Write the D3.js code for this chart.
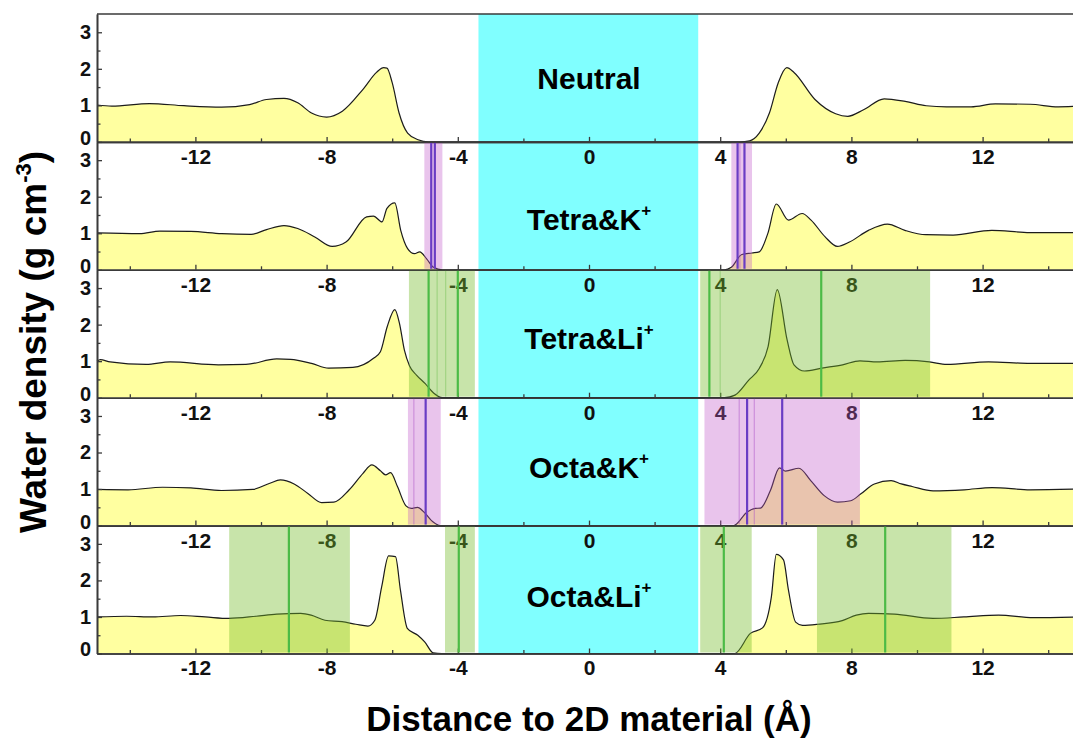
<!DOCTYPE html>
<html>
<head>
<meta charset="utf-8">
<script src="https://cdn.jsdelivr.net/npm/d3@7"></script>
<style>
  body { margin: 0; background: #fff; }
  text { font-family: "Liberation Sans", Arial, sans-serif; font-weight: bold; }
</style>
</head>
<body>
<svg width="1073" height="738"></svg>
<script>
// water density profiles, [distance (Å), density (g cm-3)]
var neutral = [[-15,1.01],[-14.55,0.98],[-13.4,1.05],[-12.35,0.99],[-11.2,0.95],[-10.35,1.02],[-9.83,1.16],[-9.3,1.19],
  [-8.88,1.07],[-8.46,0.79],[-8.0,0.68],[-7.52,0.84],[-6.89,1.44],[-6.47,1.91],[-6.26,2.03],[-6.16,2.02],[-6.0,1.62],
  [-5.79,0.79],[-5.53,0.24],[-5.21,0.06],[-4.9,0],[4.6,0],[4.9,0.03],[5.19,0.24],[5.5,0.79],[5.77,1.62],[6.03,2.03],
  [6.25,1.9],[6.89,1.16],[7.52,0.77],[7.89,0.70],[8.37,0.88],[9.0,1.18],[9.64,1.11],[10.28,0.99],[10.9,0.96],
  [11.65,0.96],[12.39,1.04],[13.45,1.03],[14.3,0.96],[15,0.98]];

var tetraK = [[-15,1.01],[-13.7,0.99],[-13.08,1.06],[-12.14,1.05],[-11.2,0.99],[-10.3,0.97],[-9.83,1.10],[-9.3,1.21],
  [-8.88,1.13],[-8.36,0.9],[-7.83,0.64],[-7.41,0.76],[-6.78,1.45],[-6.57,1.47],[-6.31,1.31],[-6.16,1.68],[-5.92,1.83],
  [-5.74,1.08],[-5.53,0.58],[-5.32,0.44],[-5.16,0.49],[-4.95,0.30],[-4.74,0.07],[-4.47,0],[4.13,0],[4.34,0.07],
  [4.66,0.42],[4.97,0.46],[5.19,0.49],[5.45,0.99],[5.71,1.80],[6.08,1.36],[6.5,1.54],[6.77,1.36],[7.2,0.9],
  [7.57,0.64],[7.94,0.76],[8.52,1.08],[9.1,1.25],[9.63,1.08],[10.27,0.96],[11.1,0.95],[12.28,1.08],[13.44,1.02],[15,1.02]];

var tetraLi = [[-15,1.0],[-14.9,1.04],[-14.6,0.98],[-13.5,0.91],[-12.77,0.98],[-11.3,0.9],[-10.46,0.91],[-9.52,1.06],
  [-9.1,1.05],[-8.46,0.94],[-7.94,0.81],[-7.2,0.83],[-6.57,1.08],[-6.36,1.26],[-6.15,1.95],[-5.92,2.41],[-5.78,2.04],
  [-5.63,1.31],[-5.47,0.87],[-5.26,0.62],[-5.0,0.39],[-4.73,0.12],[-4.47,0],[4.13,0],[4.45,0.07],[4.87,0.48],
  [5.19,0.8],[5.46,1.4],[5.74,2.96],[6.04,1.58],[6.25,0.9],[6.57,0.73],[7.1,0.81],[7.73,0.9],[8.26,1.01],[8.79,0.98],
  [9.64,1.02],[10.38,0.98],[10.91,0.91],[12.18,0.98],[13.45,0.94],[15,0.94]];

var octaK = [[-15,0.99],[-14.05,0.98],[-13.0,1.05],[-12.14,1.03],[-11.2,0.96],[-10.25,0.99],[-9.73,1.16],[-9.41,1.25],
  [-8.99,1.14],[-8.57,0.88],[-8.15,0.63],[-7.78,0.64],[-7.31,0.98],[-6.89,1.43],[-6.62,1.66],[-6.36,1.5],[-6.2,1.39],
  [-6.05,1.45],[-5.84,1.07],[-5.58,0.54],[-5.42,0.47],[-5.23,0.5],[-5.0,0.34],[-4.77,0.11],[-4.53,0],[4.41,0],
  [4.82,0.37],[5.07,0.47],[5.23,0.48],[5.53,0.96],[5.81,1.58],[5.99,1.49],[6.4,1.57],[6.76,1.23],[7.17,0.82],
  [7.58,0.64],[7.98,0.68],[8.29,0.87],[8.7,1.14],[9.21,1.23],[9.52,1.14],[9.85,1.07],[10.49,0.95],[11.44,0.98],
  [12.29,1.04],[13.45,0.98],[15,1.0]];

var octaLi = [[-15,1.0],[-14.1,1.02],[-13.3,1.0],[-12.45,1.04],[-11.7,1.0],[-10.98,0.96],[-10.15,1.02],[-9.52,1.08],
  [-8.79,1.1],[-8.47,1.05],[-8.05,0.91],[-7.53,0.87],[-7.11,0.8],[-6.74,0.75],[-6.53,0.91],[-6.32,1.83],[-6.11,2.67],
  [-5.9,2.65],[-5.75,1.74],[-5.54,0.69],[-5.22,0.5],[-5.01,0.32],[-4.75,0.02],[-4.49,0],[4.44,0],[4.92,0.55],
  [5.29,0.7],[5.56,1.55],[5.71,2.71],[5.93,2.56],[6.08,1.74],[6.3,0.86],[6.51,0.77],[6.98,0.8],[7.72,0.9],[8.15,1.05],
  [8.52,1.1],[9.31,1.08],[10.48,0.96],[11.43,1.0],[12.49,1.05],[13.55,0.98],[15,1.0]];

var panelNames = ['Neutral', 'Tetra&K', 'Tetra&Li', 'Octa&K', 'Octa&Li'];
var panelSup = ['', '+', '+', '+', '+'];

// ion regions: shaded ranges, ion positions, and weaker positions
var neutralBands = [], neutralIons = [], neutralWeak = [];
var tetraKBands = [[-5.02, -4.47], [4.34, 4.97]];
var tetraKIons = [-4.81, -4.70, 4.53, 4.74];
var tetraKWeak = [4.6];
var tetraLiBands = [[-5.49, -3.48], [3.39, 10.4]];
var tetraLiIons = [-4.89, -4.0, 3.67, 7.08];
var tetraLiWeak = [-4.63, -4.37, 4.0];
var octaKBands = [[-5.52, -4.52], [3.52, 8.26]];
var octaKIons = [-4.98, 4.82, 5.89];
var octaKWeak = [-5.34, 4.58, 5.04];
var octaLiBands = [[-10.97, -7.29], [-4.39, -3.48], [3.39, 4.96], [6.95, 11.05]];
var octaLiIons = [-9.15, -3.97, 4.11, 9.03];
var octaLiWeak = [];

var slab = [-3.37, 3.33];   // 2D material
var xMajor = [-12, -8, -4, 0, 4, 8, 12];
var xMinor = [-14, -10, -6, -2, 2, 6, 10, 14];
var yMajor = [0, 1, 2, 3];
var yMinor = [0.5, 1.5, 2.5];

var panels = [
  { pts: neutral, bands: neutralBands, ions: neutralIons, weak: neutralWeak, kind: 'K' },
  { pts: tetraK, bands: tetraKBands, ions: tetraKIons, weak: tetraKWeak, kind: 'K' },
  { pts: tetraLi, bands: tetraLiBands, ions: tetraLiIons, weak: tetraLiWeak, kind: 'Li' },
  { pts: octaK, bands: octaKBands, ions: octaKIons, weak: octaKWeak, kind: 'K' },
  { pts: octaLi, bands: octaLiBands, ions: octaLiIons, weak: octaLiWeak, kind: 'Li' }
];
panels.forEach(function(p, i) { p.name = panelNames[i]; p.sup = panelSup[i]; });

// layout
var left = 97, right = 1081, plotTop = 14, ph = 127.9;
var labelDy = [64, 77, 69, 70, 71];
var bandFill = { K: 'rgba(192,86,200,0.35)', Li: 'rgba(118,187,42,0.4)' };
var ionStroke = { K: '#6a3cc4', Li: '#4cbb46' };
var weakStroke = { K: 'rgba(170,80,200,0.45)', Li: 'rgba(90,180,60,0.35)' };
var axisColor = '#3a3a3a';
var plain = function(d) { return String(d); };   // keep ASCII hyphen minus

var svg = d3.select('svg');

var x = d3.scaleLinear().domain([-15, 15]).range([left, right]);
var y = d3.scaleLinear().domain([0, 3.5]).range([ph, 0]);

svg.append('rect')
  .attr('x', x(slab[0]))
  .attr('width', x(slab[1]) - x(slab[0]))
  .attr('y', plotTop)
  .attr('height', ph * 5)
  .attr('fill', '#80ffff');

var area = d3.area()
  .x(function(d) { return x(d[0]); })
  .y0(y(0))
  .y1(function(d) { return y(d[1]); })
  .curve(d3.curveMonotoneX);
var line = area.lineY1();

function shift(i) { return 'translate(0,' + (plotTop + i * ph) + ')'; }

// profiles
var prof = svg.selectAll('g.profile')
  .data(panels)
  .enter()
    .append('g')
      .attr('class', 'profile')
      .attr('transform', function(d, i) { return shift(i); });

prof.append('path')
  .attr('d', function(d) { return area(d.pts); })
  .attr('fill', '#ffffa0');
prof.append('path')
  .attr('d', function(d) { return line(d.pts); })
  .attr('fill', 'none')
  .attr('stroke', '#1c1c1c')
  .attr('stroke-width', 1.2);

prof.each(function(d, i) {
  var t = d3.select(this).append('text')
    .attr('x', x(0))
    .attr('y', labelDy[i] + 10.7)
    .attr('text-anchor', 'middle')
    .attr('font-size', 30)
    .text(d.name);
  if (d.sup) {
    t.append('tspan').attr('dy', -14).attr('font-size', 17).text(d.sup);
  }
});

// axes
var axes = svg.selectAll('g.axes')
  .data(panels)
  .enter()
    .append('g')
      .attr('class', 'axes')
      .attr('transform', function(d, i) { return shift(i); });

axes.append('g')
  .attr('transform', 'translate(0,' + ph + ')')
  .call(d3.axisBottom(x).tickValues(xMinor).tickFormat('').tickSize(-3.5).tickSizeOuter(0));
axes.append('g')
  .attr('class', 'xmajor')
  .attr('transform', 'translate(0,' + ph + ')')
  .call(d3.axisBottom(x).tickValues(xMajor).tickFormat(plain).tickSize(-5).tickSizeOuter(0).tickPadding(7));
axes.append('g')
  .attr('transform', 'translate(' + left + ',0)')
  .call(d3.axisLeft(y).tickValues(yMinor).tickFormat('').tickSize(-3.5).tickSizeOuter(0));
axes.append('g')
  .attr('class', 'ymajor')
  .attr('transform', 'translate(' + left + ',0)')
  .call(d3.axisLeft(y).tickValues(yMajor).tickFormat(plain).tickSize(-5).tickSizeOuter(0).tickPadding(6));

axes.selectAll('.domain').attr('stroke', axisColor).attr('stroke-width', 1.6);
axes.selectAll('.tick line').attr('stroke', axisColor).attr('stroke-width', 1.3);
axes.selectAll('.xmajor text').attr('font-size', 21).attr('fill', '#111');
axes.selectAll('.ymajor text').attr('font-size', 20).attr('fill', '#111')
  .attr('y', function(d) { return d === 0 ? -4 : 0; });

svg.append('line')
  .attr('x1', left).attr('x2', right)
  .attr('y1', plotTop).attr('y2', plotTop)
  .attr('stroke', axisColor).attr('stroke-width', 1.6);

// ion regions drawn over everything
var ions = svg.selectAll('g.ions')
  .data(panels)
  .enter()
    .append('g')
      .attr('class', 'ions')
      .attr('transform', function(d, i) { return shift(i); });

ions.selectAll('rect')
  .data(function(d) { return d.bands.map(function(b) { return { b: b, kind: d.kind }; }); })
  .enter()
    .append('rect')
      .attr('x', function(d) { return x(d.b[0]); })
      .attr('width', function(d) { return x(d.b[1]) - x(d.b[0]); })
      .attr('y', 1)
      .attr('height', ph - 2)
      .attr('fill', function(d) { return bandFill[d.kind]; });

ions.selectAll('line.weak')
  .data(function(d) { return d.weak.map(function(v) { return { v: v, kind: d.kind }; }); })
  .enter()
    .append('line')
      .attr('class', 'weak')
      .attr('x1', function(d) { return x(d.v); })
      .attr('x2', function(d) { return x(d.v); })
      .attr('y1', 1).attr('y2', ph - 1)
      .attr('stroke', function(d) { return weakStroke[d.kind]; })
      .attr('stroke-width', 1.2);

ions.selectAll('line.ion')
  .data(function(d) { return d.ions.map(function(v) { return { v: v, kind: d.kind }; }); })
  .enter()
    .append('line')
      .attr('class', 'ion')
      .attr('x1', function(d) { return x(d.v); })
      .attr('x2', function(d) { return x(d.v); })
      .attr('y1', 1).attr('y2', ph - 1)
      .attr('stroke', function(d) { return ionStroke[d.kind]; })
      .attr('stroke-width', 2.2);

// axis titles
var yt = svg.append('text')
  .attr('transform', 'translate(46,342) rotate(-90)')
  .attr('text-anchor', 'middle')
  .attr('font-size', 37)
  .text('Water density (g cm');
yt.append('tspan').attr('dy', -15).attr('font-size', 22).text('-3');
yt.append('tspan').attr('dy', 15).attr('font-size', 37).text(')');

svg.append('text')
  .attr('x', x(0))
  .attr('y', 731)
  .attr('text-anchor', 'middle')
  .attr('font-size', 35)
  .text('Distance to 2D material (Å)');
</script>
</body>
</html>
